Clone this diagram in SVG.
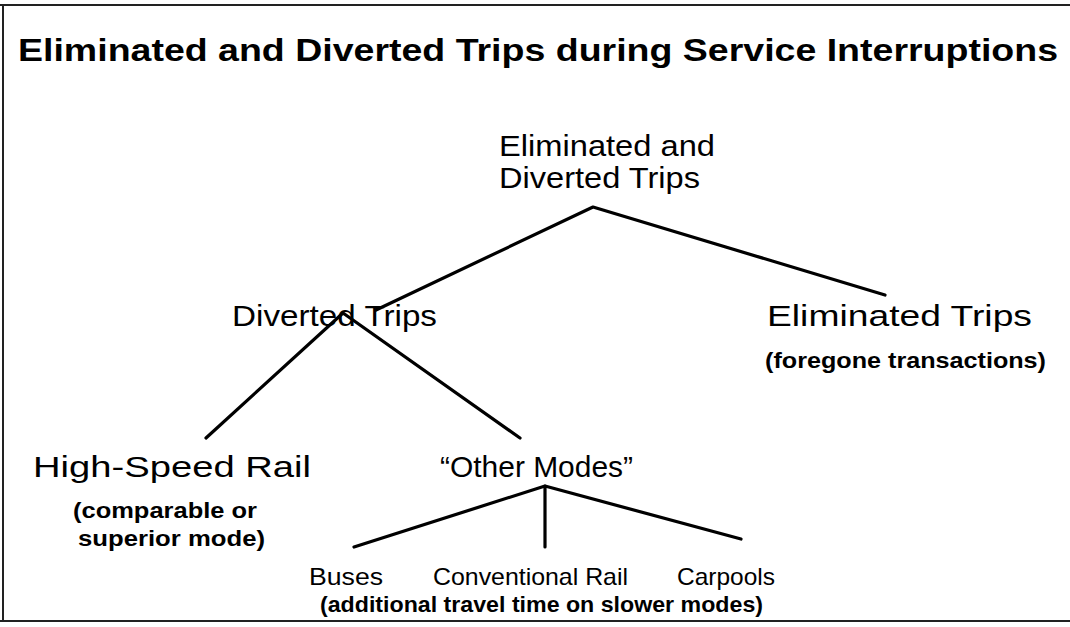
<svg xmlns="http://www.w3.org/2000/svg" width="1070" height="627" viewBox="0 0 1070 627">
<style>
.t{font-family:"Liberation Sans",Arial,sans-serif;fill:#000}
.title{font-size:31px;font-weight:bold}
.n{font-size:30px}
.s{font-size:22px;font-weight:bold}
.m{font-size:24px}
.c{stroke:#000;stroke-width:3.2;fill:none;stroke-linecap:round;stroke-linejoin:round}
.f{stroke:#222;stroke-width:2;fill:none}
</style>
<rect width="1070" height="627" fill="#fff"/>
<g id="frame">
<line class="f" x1="0" y1="5" x2="1070" y2="5" stroke="#444"/>
<line class="f" x1="3" y1="5" x2="3" y2="622"/>
<line class="f" x1="0" y1="621" x2="1070" y2="621" stroke="#666"/>
</g>
<text id="title" class="t title" x="18" y="61" textLength="1040" lengthAdjust="spacingAndGlyphs">Eliminated and Diverted Trips during Service Interruptions</text>
<g id="connectors">
<polyline class="c" points="376,310 593,207 885,295"/>
<polyline class="c" points="206,438 343,313 520,438"/>
<polyline class="c" points="354,547 545,486 741,539"/>
<line class="c" x1="545" y1="486" x2="545" y2="547"/>
</g>
<g id="root">
<text class="t n" x="499" y="156" textLength="216" lengthAdjust="spacingAndGlyphs">Eliminated and</text>
<text class="t n" x="499" y="188" textLength="201" lengthAdjust="spacingAndGlyphs">Diverted Trips</text>
</g>
<g id="diverted">
<text class="t n" x="232" y="326" textLength="205" lengthAdjust="spacingAndGlyphs">Diverted Trips</text>
</g>
<g id="eliminated">
<text class="t n" x="767" y="326" textLength="265" lengthAdjust="spacingAndGlyphs">Eliminated Trips</text>
<text class="t s" x="765" y="368" textLength="281" lengthAdjust="spacingAndGlyphs">(foregone transactions)</text>
</g>
<g id="hsr">
<text class="t n" x="33" y="477" textLength="278" lengthAdjust="spacingAndGlyphs">High-Speed Rail</text>
<text class="t s" x="73" y="518" textLength="184" lengthAdjust="spacingAndGlyphs">(comparable or</text>
<text class="t s" x="78" y="546" textLength="187" lengthAdjust="spacingAndGlyphs">superior mode)</text>
</g>
<g id="other">
<text class="t n" x="440" y="477" textLength="193" lengthAdjust="spacingAndGlyphs">“Other Modes”</text>
</g>
<g id="buses">
<text class="t m" x="309" y="585" textLength="74" lengthAdjust="spacingAndGlyphs">Buses</text>
</g>
<g id="conv">
<text class="t m" x="433" y="585" textLength="195" lengthAdjust="spacingAndGlyphs">Conventional Rail</text>
</g>
<g id="carpools">
<text class="t m" x="677" y="585" textLength="98" lengthAdjust="spacingAndGlyphs">Carpools</text>
</g>
<g id="note">
<text class="t s" x="320" y="612" textLength="443" lengthAdjust="spacingAndGlyphs">(additional travel time on slower modes)</text>
</g>
</svg>
